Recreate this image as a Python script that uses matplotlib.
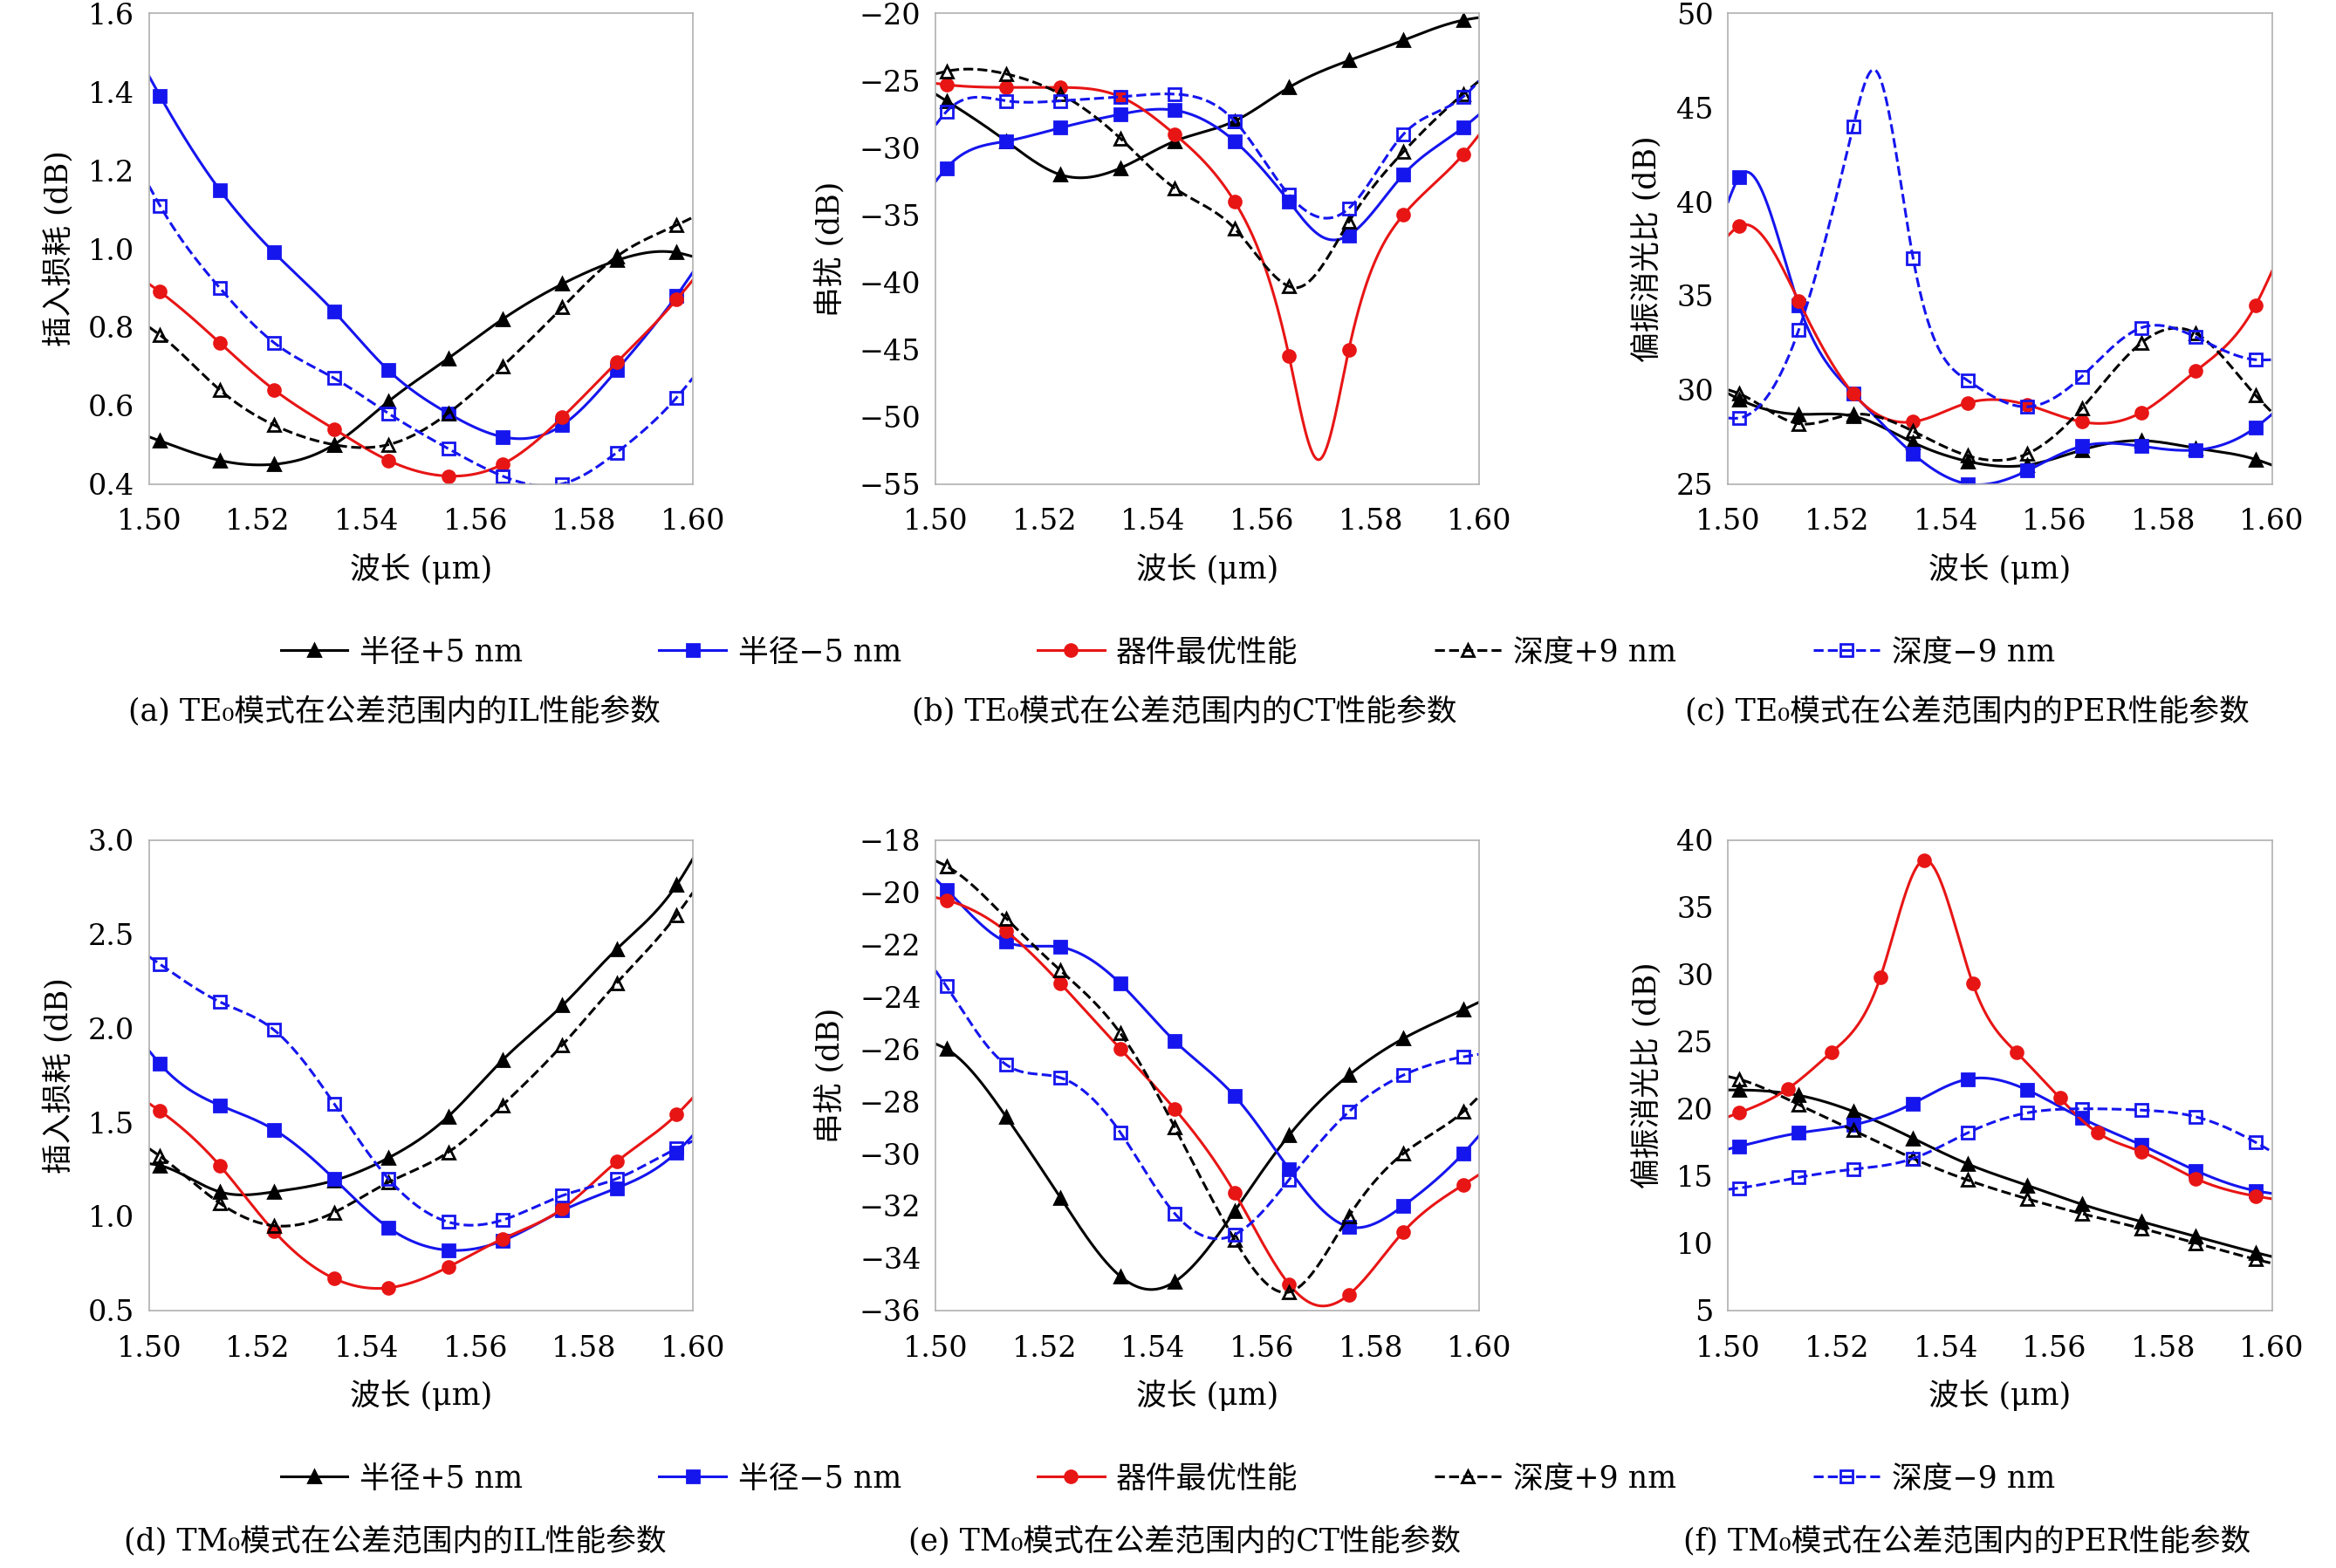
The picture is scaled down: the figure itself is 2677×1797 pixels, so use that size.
import numpy as np
import matplotlib
matplotlib.use("Agg")
import matplotlib.pyplot as plt
from matplotlib.lines import Line2D

plt.rcParams['font.family'] = ['DejaVu Serif', 'Noto Sans CJK SC']

MX = [1.502, 1.513, 1.523, 1.534, 1.544, 1.555, 1.565, 1.576, 1.586, 1.597]

names = ["半径+5 nm", "半径−5 nm", "器件最优性能", "深度+9 nm", "深度−9 nm"]
styles = [dict(color='black', ls='-', marker='^', mfc='black'),
          dict(color='#1515ee', ls='-', marker='s', mfc='#1515ee'),
          dict(color='#e81515', ls='-', marker='o', mfc='#e81515'),
          dict(color='black', ls='--', marker='^', mfc='none'),
          dict(color='#1515ee', ls='--', marker='s', mfc='none')]

a_y = [[0.51,0.46,0.45,0.50,0.61,0.72,0.82,0.91,0.97,0.99],
       [1.39,1.15,0.99,0.84,0.69,0.58,0.52,0.55,0.69,0.88],
       [0.89,0.76,0.64,0.54,0.46,0.42,0.45,0.57,0.71,0.87],
       [0.78,0.64,0.55,0.50,0.50,0.58,0.70,0.85,0.98,1.06],
       [1.11,0.90,0.76,0.67,0.58,0.49,0.42,0.40,0.48,0.62]]
a_end = [(0.52,0.98),(1.44,0.94),(0.91,0.92),(0.80,1.08),(1.16,0.67)]

b_y = [[-26.5,-29.5,-32,-31.5,-29.5,-28,-25.5,-23.5,-22,-20.5],
       [-31.5,-29.5,-28.5,-27.5,-27.2,-29.5,-34,-36.5,-32,-28.5],
       [-25.3,-25.5,-25.5,-26.2,-29,-34,-45.5,-45,-35,-30.5],
       [-24.3,-24.5,-26,-29.3,-33,-36,-40.3,-35.5,-30.3,-26],
       [-27.3,-26.5,-26.5,-26.2,-26,-28,-33.5,-34.5,-29,-26.2]]
b_end = [(-26,-20.3),(-32.5,-27.5),(-25.2,-29),(-24.5,-25),(-28.3,-25)]
b_extra = [[], [(1.571,-36.6)], [(1.5705,-53.2)], [(1.5665,-40.4)], [(1.571,-35.2)]]

c_y = [[29.5,28.7,28.6,27.2,26.2,26.0,26.8,27.3,26.9,26.3],
       [41.3,34.5,29.8,26.6,25.0,25.7,27.0,27.0,26.8,28.0],
       [38.7,34.7,29.8,28.3,29.3,29.2,28.3,28.8,31.0,34.5],
       [29.8,28.2,28.7,27.8,26.5,26.6,29.0,32.5,33.0,29.7],
       [28.5,33.2,44.0,37.0,30.5,29.1,30.7,33.3,32.8,31.6]]
c_end = [(29.8,26.0),(40.0,28.7),(38.2,36.3),(30.0,28.8),(28.5,31.6)]
c_extra = [[], [], [], [], [(1.527,47.0)]]

d_y = [[1.27,1.13,1.13,1.19,1.31,1.53,1.83,2.12,2.42,2.76],
       [1.81,1.59,1.46,1.20,0.94,0.82,0.87,1.03,1.15,1.34],
       [1.56,1.27,0.92,0.67,0.62,0.73,0.88,1.04,1.29,1.54],
       [1.32,1.07,0.95,1.02,1.18,1.34,1.59,1.91,2.24,2.60],
       [2.34,2.14,1.99,1.60,1.20,0.97,0.98,1.11,1.20,1.36]]
d_end = [(1.28,2.90),(1.88,1.43),(1.60,1.63),(1.36,2.72),(2.38,1.40)]

e_y = [[-26,-28.6,-31.7,-34.7,-34.9,-32.2,-29.3,-27,-25.6,-24.5],
       [-19.9,-21.9,-22.1,-23.5,-25.7,-27.8,-30.6,-32.8,-32,-30],
       [-20.3,-21.5,-23.5,-26,-28.3,-31.5,-35,-35.4,-33,-31.2],
       [-19,-21,-23,-25.4,-29,-33.3,-35.3,-32.4,-30,-28.4],
       [-23.6,-26.6,-27.1,-29.2,-32.3,-33.1,-31,-28.4,-27,-26.3]]
e_end = [(-25.8,-24.2),(-19.5,-29.3),(-20.2,-30.8),(-18.8,-27.8),(-23.0,-26.2)]
e_extra = [[(1.540,-35.2)], [], [(1.570,-35.8)], [], []]

f_y = [[21.4,21.0,19.8,17.8,15.9,14.3,12.9,11.6,10.5,9.3],
       [17.2,18.2,18.8,20.4,22.2,21.4,19.3,17.3,15.4,13.9],
       [19.7,21.5,24.2,29.8,38.5,29.3,24.2,20.8,18.2,16.8,14.8,13.5],
       [22.2,20.3,18.4,16.3,14.7,13.3,12.2,11.1,10.0,8.8],
       [14.1,14.9,15.5,16.3,18.2,19.7,20.0,19.9,19.4,17.5]]
f_red_x = [1.502,1.511,1.519,1.528,1.536,1.545,1.553,1.561,1.568,1.576,1.586,1.597]
f_end = [(21.4,9.0),(17.0,13.7),(19.4,13.3),(22.4,8.5),(14.0,16.8)]

def spline(x, y, xs):
    x = np.asarray(x, float); y = np.asarray(y, float)
    n = len(x); h = np.diff(x)
    A = np.zeros((n, n)); r = np.zeros(n)
    A[0, 0] = A[-1, -1] = 1
    for i in range(1, n - 1):
        A[i, i-1] = h[i-1]; A[i, i] = 2*(h[i-1]+h[i]); A[i, i+1] = h[i]
        r[i] = 6*((y[i+1]-y[i])/h[i] - (y[i]-y[i-1])/h[i-1])
    M = np.linalg.solve(A, r)
    idx = np.clip(np.searchsorted(x, xs) - 1, 0, n - 2)
    x0, x1 = x[idx], x[idx+1]; hh = x1 - x0
    t0 = x1 - xs; t1 = xs - x0
    return (M[idx]*t0**3 + M[idx+1]*t1**3)/(6*hh) + (y[idx]/hh - M[idx]*hh/6)*t0 + (y[idx+1]/hh - M[idx+1]*hh/6)*t1

def panel(ax, ys, ends, extras, ylim, yticks, ylabel, mxs=None):
    xs = np.linspace(1.50, 1.60, 600)
    for k in range(5):
        mx = (mxs[k] if mxs and mxs[k] else MX)
        kx = [1.50] + list(mx) + [1.60]
        ky = [ends[k][0]] + list(ys[k]) + [ends[k][1]]
        for ex, ey in (extras[k] if extras else []):
            kx.append(ex); ky.append(ey)
        o = np.argsort(kx)
        kx = np.array(kx)[o]; ky = np.array(ky)[o]
        st = styles[k]
        ax.plot(xs, spline(kx, ky, xs), color=st['color'], ls=st['ls'], lw=2.2)
        ax.plot(mx, ys[k], ls='none', marker=st['marker'], color=st['color'],
                mfc=st['mfc'], mew=2, ms=10)
    ax.set_xlim(1.50, 1.60); ax.set_ylim(*ylim)
    ax.set_xticks([1.50,1.52,1.54,1.56,1.58,1.60])
    ax.set_xticklabels(["1.50","1.52","1.54","1.56","1.58","1.60"])
    ax.set_yticks(yticks)
    ax.tick_params(length=0, labelsize=24)
    ax.tick_params(axis='x', pad=20)
    ax.tick_params(axis='y', pad=12)
    for s in ax.spines.values():
        s.set_color('#b0b0b0'); s.set_linewidth(1.2)
    ax.set_xlabel("波长 (μm)", fontsize=25, labelpad=14)
    ax.set_ylabel(ylabel, fontsize=25, labelpad=12)

fig = plt.figure(figsize=(26.77, 17.97), dpi=100)
lefts = [0.0638, 0.4005, 0.7398]; w = 0.2328
top_b, bot_b, hgt = 0.6914, 0.1643, 0.300
axs = [fig.add_axes([l, top_b, w, hgt]) for l in lefts] + [fig.add_axes([l, bot_b, w, hgt]) for l in lefts]

panel(axs[0], a_y, a_end, None, (0.4,1.6), [0.4,0.6,0.8,1.0,1.2,1.4,1.6], "插入损耗 (dB)")
axs[0].set_yticklabels(["0.4","0.6","0.8","1.0","1.2","1.4","1.6"])
panel(axs[1], b_y, b_end, b_extra, (-55,-20), list(range(-55,-19,5)), "串扰 (dB)")
panel(axs[2], c_y, c_end, c_extra, (25,50), list(range(25,51,5)), "偏振消光比 (dB)")
panel(axs[3], d_y, d_end, None, (0.5,3.0), [0.5,1.0,1.5,2.0,2.5,3.0], "插入损耗 (dB)")
axs[3].set_yticklabels(["0.5","1.0","1.5","2.0","2.5","3.0"])
panel(axs[4], e_y, e_end, e_extra, (-36,-18), list(range(-36,-17,2)), "串扰 (dB)")
panel(axs[5], f_y, f_end, None, (5,40), list(range(5,41,5)), "偏振消光比 (dB)",
      mxs=[None, None, f_red_x, None, None])

handles = [Line2D([], [], color=s['color'], ls=s['ls'], marker=s['marker'], mfc=s['mfc'],
                  mew=2, ms=10, lw=2.2) for s in styles]
for yy in (0.584, 0.057):
    fig.legend(handles, names, loc='center', bbox_to_anchor=(0.5, yy), ncol=5, frameon=False,
               fontsize=25, columnspacing=4.5, handlelength=2.2, handletextpad=0.4)

caps = ["(a) TE₀模式在公差范围内的IL性能参数", "(b) TE₀模式在公差范围内的CT性能参数",
        "(c) TE₀模式在公差范围内的PER性能参数", "(d) TM₀模式在公差范围内的IL性能参数",
        "(e) TM₀模式在公差范围内的CT性能参数", "(f) TM₀模式在公差范围内的PER性能参数"]
cx = [0.169, 0.507, 0.842]
for i, c in enumerate(caps):
    fig.text(cx[i % 3], 0.546 if i < 3 else 0.017, c, ha='center', va='center', fontsize=25)

fig.savefig("out.png", dpi=100)
